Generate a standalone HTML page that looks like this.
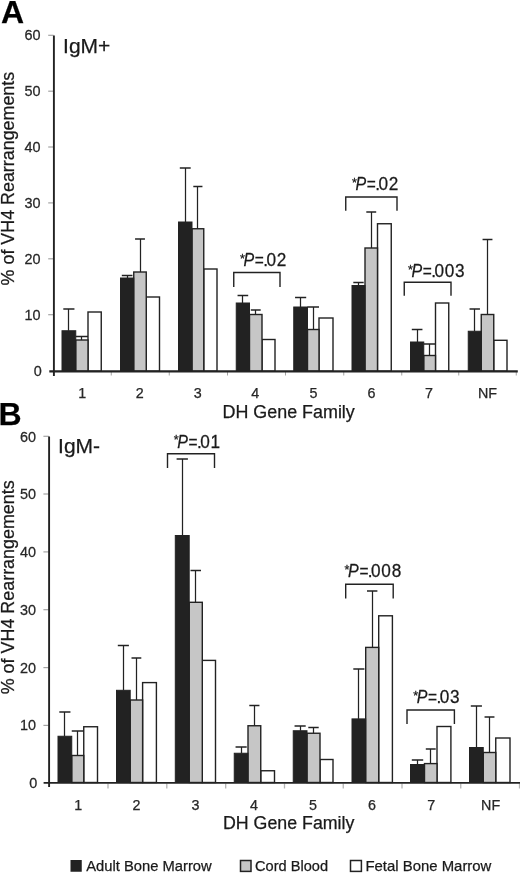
<!DOCTYPE html>
<html lang="en"><head><meta charset="utf-8"><title>DH Gene Family usage</title>
<style>
html,body{margin:0;padding:0;background:#fff;}
body{width:520px;height:873px;overflow:hidden;}
svg{display:block;font-family:"Liberation Sans",Arial,Helvetica,sans-serif;fill:#1a1a1a;}
text{stroke:#1a1a1a;stroke-width:0.25px;}
</style></head><body>
<svg width="520" height="873" viewBox="0 0 520 873">
<rect width="520" height="873" fill="#fff"/>
<g id="panelA">
<text x="1.0" y="23.1" font-size="32" font-weight="bold" fill="#000" stroke="#000">A</text>
<text x="63.1" y="52.5" font-size="21">IgM+</text>
<text transform="translate(14,285.4) rotate(-90)" font-size="17.8" textLength="213.6" lengthAdjust="spacingAndGlyphs">% of VH4 Rearrangements</text>
<path d="M48.2 35.3H53.5" stroke="#a4a4a4" stroke-width="1.2"/>
<path d="M48.2 91.2H53.5" stroke="#a4a4a4" stroke-width="1.2"/>
<path d="M48.2 147.0H53.5" stroke="#a4a4a4" stroke-width="1.2"/>
<path d="M48.2 202.9H53.5" stroke="#a4a4a4" stroke-width="1.2"/>
<path d="M48.2 258.8H53.5" stroke="#a4a4a4" stroke-width="1.2"/>
<path d="M48.2 314.7H53.5" stroke="#a4a4a4" stroke-width="1.2"/>
<path d="M111.25 372V375.5" stroke="#a4a4a4" stroke-width="1"/>
<path d="M169.25 372V375.5" stroke="#a4a4a4" stroke-width="1"/>
<path d="M227.5 372V375.5" stroke="#a4a4a4" stroke-width="1"/>
<path d="M285.5 372V375.5" stroke="#a4a4a4" stroke-width="1"/>
<path d="M343.75 372V375.5" stroke="#a4a4a4" stroke-width="1"/>
<path d="M401.75 372V375.5" stroke="#a4a4a4" stroke-width="1"/>
<path d="M458.75 372V375.5" stroke="#a4a4a4" stroke-width="1"/>
<path d="M516.25 372V375.5" stroke="#a4a4a4" stroke-width="1"/>
<text transform="translate(40.5,40.40) scale(0.95,1)" font-size="15.2" text-anchor="end" fill="#2a2a2a">60</text>
<text transform="translate(40.5,96.20) scale(0.95,1)" font-size="15.2" text-anchor="end" fill="#2a2a2a">50</text>
<text transform="translate(40.5,152.00) scale(0.95,1)" font-size="15.2" text-anchor="end" fill="#2a2a2a">40</text>
<text transform="translate(40.5,207.90) scale(0.95,1)" font-size="15.2" text-anchor="end" fill="#2a2a2a">30</text>
<text transform="translate(40.5,263.80) scale(0.95,1)" font-size="15.2" text-anchor="end" fill="#2a2a2a">20</text>
<text transform="translate(40.5,319.70) scale(0.95,1)" font-size="15.2" text-anchor="end" fill="#2a2a2a">10</text>
<text transform="translate(41.8,376.20) scale(0.95,1)" font-size="15.2" text-anchor="end" fill="#2a2a2a">0</text>
<text x="82.3" y="398.3" font-size="14.3" text-anchor="middle" fill="#2a2a2a">1</text>
<text x="139.8" y="398.3" font-size="14.3" text-anchor="middle" fill="#2a2a2a">2</text>
<text x="197.7" y="398.3" font-size="14.3" text-anchor="middle" fill="#2a2a2a">3</text>
<text x="255.2" y="398.3" font-size="14.3" text-anchor="middle" fill="#2a2a2a">4</text>
<text x="313.6" y="398.3" font-size="14.3" text-anchor="middle" fill="#2a2a2a">5</text>
<text x="371.5" y="398.3" font-size="14.3" text-anchor="middle" fill="#2a2a2a">6</text>
<text x="429" y="398.3" font-size="14.3" text-anchor="middle" fill="#2a2a2a">7</text>
<text x="487.5" y="398.3" font-size="14.3" text-anchor="middle" fill="#2a2a2a">NF</text>
<rect x="88.00" y="312.00" width="13.25" height="59.25" fill="#fff" stroke="#222" stroke-width="1.4"/>
<rect x="75.75" y="340.00" width="12.25" height="31.25" fill="#c6c6c6" stroke="#222" stroke-width="1.4"/>
<rect x="62.00" y="330.75" width="13.75" height="40.50" fill="#222" stroke="#222" stroke-width="1"/>
<path d="M68.50 330.75V309.00" stroke="#222" stroke-width="1.25" fill="none"/>
<path d="M63.30 309.00H74.45" stroke="#222" stroke-width="1.5" fill="none"/>
<path d="M81.50 340.00V336.50" stroke="#222" stroke-width="1.25" fill="none"/>
<path d="M75.75 336.50H88.00" stroke="#222" stroke-width="1.5" fill="none"/>
<rect x="146.25" y="297.00" width="13.25" height="74.25" fill="#fff" stroke="#222" stroke-width="1.4"/>
<rect x="133.75" y="272.00" width="12.50" height="99.25" fill="#c6c6c6" stroke="#222" stroke-width="1.4"/>
<rect x="120.50" y="278.00" width="13.25" height="93.25" fill="#222" stroke="#222" stroke-width="1"/>
<path d="M127.50 278.00V275.50" stroke="#222" stroke-width="1.25" fill="none"/>
<path d="M121.80 275.50H132.45" stroke="#222" stroke-width="1.5" fill="none"/>
<path d="M140.50 272.00V239.00" stroke="#222" stroke-width="1.25" fill="none"/>
<path d="M135.05 239.00H144.95" stroke="#222" stroke-width="1.5" fill="none"/>
<rect x="203.75" y="269.00" width="13.25" height="102.25" fill="#fff" stroke="#222" stroke-width="1.4"/>
<rect x="192.00" y="228.75" width="11.75" height="142.50" fill="#c6c6c6" stroke="#222" stroke-width="1.4"/>
<rect x="178.50" y="222.00" width="13.50" height="149.25" fill="#222" stroke="#222" stroke-width="1"/>
<path d="M185.50 222.00V168.00" stroke="#222" stroke-width="1.25" fill="none"/>
<path d="M179.80 168.00H190.70" stroke="#222" stroke-width="1.5" fill="none"/>
<path d="M197.50 228.75V186.50" stroke="#222" stroke-width="1.25" fill="none"/>
<path d="M193.30 186.50H202.45" stroke="#222" stroke-width="1.5" fill="none"/>
<rect x="262.00" y="339.50" width="13.00" height="31.75" fill="#fff" stroke="#222" stroke-width="1.4"/>
<rect x="249.50" y="314.50" width="12.50" height="56.75" fill="#c6c6c6" stroke="#222" stroke-width="1.4"/>
<rect x="236.25" y="303.00" width="13.25" height="68.25" fill="#222" stroke="#222" stroke-width="1"/>
<path d="M242.50 303.00V295.50" stroke="#222" stroke-width="1.25" fill="none"/>
<path d="M237.55 295.50H248.20" stroke="#222" stroke-width="1.5" fill="none"/>
<path d="M255.50 314.50V310.00" stroke="#222" stroke-width="1.25" fill="none"/>
<path d="M250.80 310.00H260.70" stroke="#222" stroke-width="1.5" fill="none"/>
<rect x="319.00" y="318.00" width="14.00" height="53.25" fill="#fff" stroke="#222" stroke-width="1.4"/>
<rect x="307.50" y="329.50" width="11.50" height="41.75" fill="#c6c6c6" stroke="#222" stroke-width="1.4"/>
<rect x="293.75" y="307.00" width="13.75" height="64.25" fill="#222" stroke="#222" stroke-width="1"/>
<path d="M300.50 307.00V297.50" stroke="#222" stroke-width="1.25" fill="none"/>
<path d="M295.05 297.50H306.20" stroke="#222" stroke-width="1.5" fill="none"/>
<path d="M313.50 329.50V307.00" stroke="#222" stroke-width="1.25" fill="none"/>
<path d="M307.50 307.00H319.00" stroke="#222" stroke-width="1.5" fill="none"/>
<rect x="377.50" y="223.75" width="13.75" height="147.50" fill="#fff" stroke="#222" stroke-width="1.4"/>
<rect x="365.00" y="248.00" width="12.50" height="123.25" fill="#c6c6c6" stroke="#222" stroke-width="1.4"/>
<rect x="352.00" y="285.50" width="13.00" height="85.75" fill="#222" stroke="#222" stroke-width="1"/>
<path d="M358.50 285.50V282.50" stroke="#222" stroke-width="1.25" fill="none"/>
<path d="M353.30 282.50H363.70" stroke="#222" stroke-width="1.5" fill="none"/>
<path d="M371.50 248.00V212.00" stroke="#222" stroke-width="1.25" fill="none"/>
<path d="M366.30 212.00H376.20" stroke="#222" stroke-width="1.5" fill="none"/>
<rect x="435.50" y="303.00" width="13.25" height="68.25" fill="#fff" stroke="#222" stroke-width="1.4"/>
<rect x="423.75" y="355.50" width="11.75" height="15.75" fill="#c6c6c6" stroke="#222" stroke-width="1.4"/>
<rect x="410.50" y="342.00" width="13.25" height="29.25" fill="#222" stroke="#222" stroke-width="1"/>
<path d="M417.50 342.00V329.50" stroke="#222" stroke-width="1.25" fill="none"/>
<path d="M411.80 329.50H422.45" stroke="#222" stroke-width="1.5" fill="none"/>
<path d="M429.50 355.50V344.00" stroke="#222" stroke-width="1.25" fill="none"/>
<path d="M423.75 344.00H435.50" stroke="#222" stroke-width="1.5" fill="none"/>
<rect x="493.75" y="340.30" width="13.25" height="30.95" fill="#fff" stroke="#222" stroke-width="1.4"/>
<rect x="481.25" y="314.50" width="12.50" height="56.75" fill="#c6c6c6" stroke="#222" stroke-width="1.4"/>
<rect x="468.25" y="331.25" width="13.00" height="40.00" fill="#222" stroke="#222" stroke-width="1"/>
<path d="M474.50 331.25V309.00" stroke="#222" stroke-width="1.25" fill="none"/>
<path d="M469.55 309.00H479.95" stroke="#222" stroke-width="1.5" fill="none"/>
<path d="M487.50 314.50V239.50" stroke="#222" stroke-width="1.25" fill="none"/>
<path d="M482.55 239.50H492.45" stroke="#222" stroke-width="1.5" fill="none"/>
<path d="M53.9 35.5V376" stroke="#222" stroke-width="1.9"/>
<path d="M49.3 371.4H517.8" stroke="#222" stroke-width="2.1"/>
<path d="M233.75 287V272.5H280V287" stroke="#222" stroke-width="1.4" fill="none"/>
<text transform="translate(0,266) scale(1,1.05)" y="0" font-size="17.2"><tspan x="239.90" dy="-3.3" font-size="12.6">*</tspan><tspan x="243.50" dy="3.3" font-style="italic" textLength="10.67" lengthAdjust="spacingAndGlyphs">P</tspan><tspan x="254.80" textLength="9.04" lengthAdjust="spacingAndGlyphs">=</tspan><tspan x="263.20">.</tspan><tspan x="266.50 276.78">02</tspan></text>
<path d="M345.75 210.75V197H397V210.75" stroke="#222" stroke-width="1.4" fill="none"/>
<text transform="translate(0,190) scale(1,1.05)" y="0" font-size="17.2"><tspan x="351.90" dy="-3.3" font-size="12.6">*</tspan><tspan x="355.50" dy="3.3" font-style="italic" textLength="10.67" lengthAdjust="spacingAndGlyphs">P</tspan><tspan x="366.80" textLength="9.04" lengthAdjust="spacingAndGlyphs">=</tspan><tspan x="375.20">.</tspan><tspan x="378.50 388.78">02</tspan></text>
<path d="M404.25 295.75V282.2H451V295.75" stroke="#222" stroke-width="1.4" fill="none"/>
<text transform="translate(0,277) scale(1,1.05)" y="0" font-size="17.2"><tspan x="407.90" dy="-3.3" font-size="12.6">*</tspan><tspan x="411.50" dy="3.3" font-style="italic" textLength="10.67" lengthAdjust="spacingAndGlyphs">P</tspan><tspan x="422.80" textLength="9.04" lengthAdjust="spacingAndGlyphs">=</tspan><tspan x="431.20">.</tspan><tspan x="434.50 444.78 455.06">003</tspan></text>
<text x="222.5" y="418" font-size="17.6" textLength="132.3" lengthAdjust="spacingAndGlyphs">DH Gene Family</text>
</g>
<g id="panelB">
<text x="-1.5" y="424.7" font-size="32" font-weight="bold" fill="#000" stroke="#000">B</text>
<text x="58.1" y="452.8" font-size="21">IgM-</text>
<text transform="translate(13.5,694.3) rotate(-90)" font-size="17.8" textLength="214" lengthAdjust="spacingAndGlyphs">% of VH4 Rearrangements</text>
<path d="M43.4 436.3H48.75" stroke="#a4a4a4" stroke-width="1.2"/>
<path d="M43.4 494.0H48.75" stroke="#a4a4a4" stroke-width="1.2"/>
<path d="M43.4 551.9H48.75" stroke="#a4a4a4" stroke-width="1.2"/>
<path d="M43.4 609.7H48.75" stroke="#a4a4a4" stroke-width="1.2"/>
<path d="M43.4 667.6H48.75" stroke="#a4a4a4" stroke-width="1.2"/>
<path d="M43.4 725.4H48.75" stroke="#a4a4a4" stroke-width="1.2"/>
<path d="M108 783.5V788.5" stroke="#b4b4b4" stroke-width="1.3"/>
<path d="M166.8 783.5V788.5" stroke="#b4b4b4" stroke-width="1.3"/>
<path d="M225.7 783.5V788.5" stroke="#b4b4b4" stroke-width="1.3"/>
<path d="M284.5 783.5V788.5" stroke="#b4b4b4" stroke-width="1.3"/>
<path d="M343.25 783.5V788.5" stroke="#b4b4b4" stroke-width="1.3"/>
<path d="M402 783.5V788.5" stroke="#b4b4b4" stroke-width="1.3"/>
<path d="M460.75 783.5V788.5" stroke="#b4b4b4" stroke-width="1.3"/>
<path d="M519.5 783.5V788.5" stroke="#b4b4b4" stroke-width="1.3"/>
<text transform="translate(36.0,441.50) scale(0.95,1)" font-size="15.2" text-anchor="end" fill="#2a2a2a">60</text>
<text transform="translate(36.0,499.10) scale(0.95,1)" font-size="15.2" text-anchor="end" fill="#2a2a2a">50</text>
<text transform="translate(36.0,556.90) scale(0.95,1)" font-size="15.2" text-anchor="end" fill="#2a2a2a">40</text>
<text transform="translate(36.0,614.80) scale(0.95,1)" font-size="15.2" text-anchor="end" fill="#2a2a2a">30</text>
<text transform="translate(36.0,672.60) scale(0.95,1)" font-size="15.2" text-anchor="end" fill="#2a2a2a">20</text>
<text transform="translate(36.0,730.40) scale(0.95,1)" font-size="15.2" text-anchor="end" fill="#2a2a2a">10</text>
<text transform="translate(37.3,788.20) scale(0.95,1)" font-size="15.2" text-anchor="end" fill="#2a2a2a">0</text>
<text x="78.3" y="810.4" font-size="14.3" text-anchor="middle" fill="#2a2a2a">1</text>
<text x="136.6" y="810.4" font-size="14.3" text-anchor="middle" fill="#2a2a2a">2</text>
<text x="195.4" y="810.4" font-size="14.3" text-anchor="middle" fill="#2a2a2a">3</text>
<text x="253.9" y="810.4" font-size="14.3" text-anchor="middle" fill="#2a2a2a">4</text>
<text x="313" y="810.4" font-size="14.3" text-anchor="middle" fill="#2a2a2a">5</text>
<text x="372" y="810.4" font-size="14.3" text-anchor="middle" fill="#2a2a2a">6</text>
<text x="431.2" y="810.4" font-size="14.3" text-anchor="middle" fill="#2a2a2a">7</text>
<text x="490.6" y="810.4" font-size="14.3" text-anchor="middle" fill="#2a2a2a">NF</text>
<rect x="83.75" y="726.75" width="13.75" height="55.75" fill="#fff" stroke="#222" stroke-width="1.4"/>
<rect x="71.75" y="755.50" width="12.00" height="27.00" fill="#c6c6c6" stroke="#222" stroke-width="1.4"/>
<rect x="58.00" y="736.25" width="13.75" height="46.25" fill="#222" stroke="#222" stroke-width="1"/>
<path d="M64.50 736.25V712.00" stroke="#222" stroke-width="1.25" fill="none"/>
<path d="M59.30 712.00H70.45" stroke="#222" stroke-width="1.5" fill="none"/>
<path d="M77.50 755.50V731.00" stroke="#222" stroke-width="1.25" fill="none"/>
<path d="M71.75 731.00H83.75" stroke="#222" stroke-width="1.5" fill="none"/>
<rect x="142.60" y="682.60" width="13.80" height="99.90" fill="#fff" stroke="#222" stroke-width="1.4"/>
<rect x="130.20" y="700.00" width="12.40" height="82.50" fill="#c6c6c6" stroke="#222" stroke-width="1.4"/>
<rect x="116.50" y="690.30" width="13.70" height="92.20" fill="#222" stroke="#222" stroke-width="1"/>
<path d="M123.50 690.30V645.50" stroke="#222" stroke-width="1.25" fill="none"/>
<path d="M117.80 645.50H128.90" stroke="#222" stroke-width="1.5" fill="none"/>
<path d="M136.50 700.00V658.00" stroke="#222" stroke-width="1.25" fill="none"/>
<path d="M131.50 658.00H141.30" stroke="#222" stroke-width="1.5" fill="none"/>
<rect x="202.30" y="660.40" width="13.20" height="122.10" fill="#fff" stroke="#222" stroke-width="1.4"/>
<rect x="189.20" y="602.30" width="13.10" height="180.20" fill="#c6c6c6" stroke="#222" stroke-width="1.4"/>
<rect x="175.30" y="535.50" width="13.90" height="247.00" fill="#222" stroke="#222" stroke-width="1"/>
<path d="M182.50 535.50V459.00" stroke="#222" stroke-width="1.25" fill="none"/>
<path d="M176.60 459.00H187.90" stroke="#222" stroke-width="1.5" fill="none"/>
<path d="M195.50 602.30V570.50" stroke="#222" stroke-width="1.25" fill="none"/>
<path d="M190.50 570.50H201.00" stroke="#222" stroke-width="1.5" fill="none"/>
<rect x="260.75" y="770.75" width="13.75" height="11.75" fill="#fff" stroke="#222" stroke-width="1.4"/>
<rect x="248.00" y="725.75" width="12.75" height="56.75" fill="#c6c6c6" stroke="#222" stroke-width="1.4"/>
<rect x="234.25" y="753.25" width="13.75" height="29.25" fill="#222" stroke="#222" stroke-width="1"/>
<path d="M241.50 753.25V747.00" stroke="#222" stroke-width="1.25" fill="none"/>
<path d="M235.55 747.00H246.70" stroke="#222" stroke-width="1.5" fill="none"/>
<path d="M254.50 725.75V705.50" stroke="#222" stroke-width="1.25" fill="none"/>
<path d="M249.30 705.50H259.45" stroke="#222" stroke-width="1.5" fill="none"/>
<rect x="320.00" y="759.50" width="13.00" height="23.00" fill="#fff" stroke="#222" stroke-width="1.4"/>
<rect x="307.00" y="733.25" width="13.00" height="49.25" fill="#c6c6c6" stroke="#222" stroke-width="1.4"/>
<rect x="293.25" y="730.75" width="13.75" height="51.75" fill="#222" stroke="#222" stroke-width="1"/>
<path d="M300.50 730.75V726.00" stroke="#222" stroke-width="1.25" fill="none"/>
<path d="M294.55 726.00H305.70" stroke="#222" stroke-width="1.5" fill="none"/>
<path d="M313.50 733.25V727.50" stroke="#222" stroke-width="1.25" fill="none"/>
<path d="M308.30 727.50H318.70" stroke="#222" stroke-width="1.5" fill="none"/>
<rect x="378.70" y="615.80" width="13.70" height="166.70" fill="#fff" stroke="#222" stroke-width="1.4"/>
<rect x="365.70" y="647.40" width="13.00" height="135.10" fill="#c6c6c6" stroke="#222" stroke-width="1.4"/>
<rect x="352.00" y="718.90" width="13.70" height="63.60" fill="#222" stroke="#222" stroke-width="1"/>
<path d="M358.50 718.90V669.00" stroke="#222" stroke-width="1.25" fill="none"/>
<path d="M353.30 669.00H364.40" stroke="#222" stroke-width="1.5" fill="none"/>
<path d="M372.50 647.40V591.00" stroke="#222" stroke-width="1.25" fill="none"/>
<path d="M367.00 591.00H377.40" stroke="#222" stroke-width="1.5" fill="none"/>
<rect x="437.00" y="726.50" width="13.90" height="56.00" fill="#fff" stroke="#222" stroke-width="1.4"/>
<rect x="424.50" y="763.60" width="12.50" height="18.90" fill="#c6c6c6" stroke="#222" stroke-width="1.4"/>
<rect x="410.50" y="764.50" width="14.00" height="18.00" fill="#222" stroke="#222" stroke-width="1"/>
<path d="M417.50 764.50V760.00" stroke="#222" stroke-width="1.25" fill="none"/>
<path d="M411.80 760.00H423.20" stroke="#222" stroke-width="1.5" fill="none"/>
<path d="M430.50 763.60V749.00" stroke="#222" stroke-width="1.25" fill="none"/>
<path d="M425.80 749.00H435.70" stroke="#222" stroke-width="1.5" fill="none"/>
<rect x="495.75" y="738.00" width="14.25" height="44.50" fill="#fff" stroke="#222" stroke-width="1.4"/>
<rect x="483.25" y="752.50" width="12.50" height="30.00" fill="#c6c6c6" stroke="#222" stroke-width="1.4"/>
<rect x="469.50" y="747.50" width="13.75" height="35.00" fill="#222" stroke="#222" stroke-width="1"/>
<path d="M476.50 747.50V706.00" stroke="#222" stroke-width="1.25" fill="none"/>
<path d="M470.80 706.00H481.95" stroke="#222" stroke-width="1.5" fill="none"/>
<path d="M489.50 752.50V717.00" stroke="#222" stroke-width="1.25" fill="none"/>
<path d="M484.55 717.00H494.45" stroke="#222" stroke-width="1.5" fill="none"/>
<path d="M49.1 436.5V787" stroke="#222" stroke-width="1.9"/>
<path d="M43.6 782.9H520" stroke="#222" stroke-width="1.9"/>
<path d="M167.5 468V453.75H214.5V468" stroke="#222" stroke-width="1.4" fill="none"/>
<text transform="translate(0,447.5) scale(1,1.05)" y="0" font-size="17.2"><tspan x="173.65" dy="-3.3" font-size="12.6">*</tspan><tspan x="177.25" dy="3.3" font-style="italic" textLength="10.67" lengthAdjust="spacingAndGlyphs">P</tspan><tspan x="188.55" textLength="9.04" lengthAdjust="spacingAndGlyphs">=</tspan><tspan x="196.95">.</tspan><tspan x="200.25 210.53">01</tspan></text>
<path d="M345.7 598.5V584.2H393.2V598.5" stroke="#222" stroke-width="1.4" fill="none"/>
<text transform="translate(0,577.3) scale(1,1.05)" y="0" font-size="17.2"><tspan x="344.50" dy="-3.3" font-size="12.6">*</tspan><tspan x="348.10" dy="3.3" font-style="italic" textLength="10.67" lengthAdjust="spacingAndGlyphs">P</tspan><tspan x="359.40" textLength="9.04" lengthAdjust="spacingAndGlyphs">=</tspan><tspan x="367.80">.</tspan><tspan x="371.10 381.38 391.66">008</tspan></text>
<path d="M407 724V710H454.4V724" stroke="#222" stroke-width="1.4" fill="none"/>
<text transform="translate(0,703.2) scale(1,1.05)" y="0" font-size="17.2"><tspan x="413.20" dy="-3.3" font-size="12.6">*</tspan><tspan x="416.80" dy="3.3" font-style="italic" textLength="10.67" lengthAdjust="spacingAndGlyphs">P</tspan><tspan x="428.10" textLength="9.04" lengthAdjust="spacingAndGlyphs">=</tspan><tspan x="436.50">.</tspan><tspan x="439.80 450.08">03</tspan></text>
<text x="223.0" y="828.8" font-size="17.6" textLength="131.4" lengthAdjust="spacingAndGlyphs">DH Gene Family</text>
</g>
<g id="legend">
<rect x="70.5" y="860" width="11.25" height="11.75" fill="#222"/>
<rect x="240.5" y="860.5" width="10.5" height="10.9" fill="#c6c6c6" stroke="#222" stroke-width="1.5"/>
<rect x="350.5" y="860.5" width="10.9" height="10.9" fill="#fff" stroke="#222" stroke-width="1.5"/>
<text x="86.25" y="871.3" font-size="14.8" textLength="125.5" lengthAdjust="spacingAndGlyphs">Adult Bone Marrow</text>
<text x="255" y="871.3" font-size="14.8" textLength="73" lengthAdjust="spacingAndGlyphs">Cord Blood</text>
<text x="365.4" y="871.3" font-size="14.8" textLength="126" lengthAdjust="spacingAndGlyphs">Fetal Bone Marrow</text>
</g>
</svg></body></html>
